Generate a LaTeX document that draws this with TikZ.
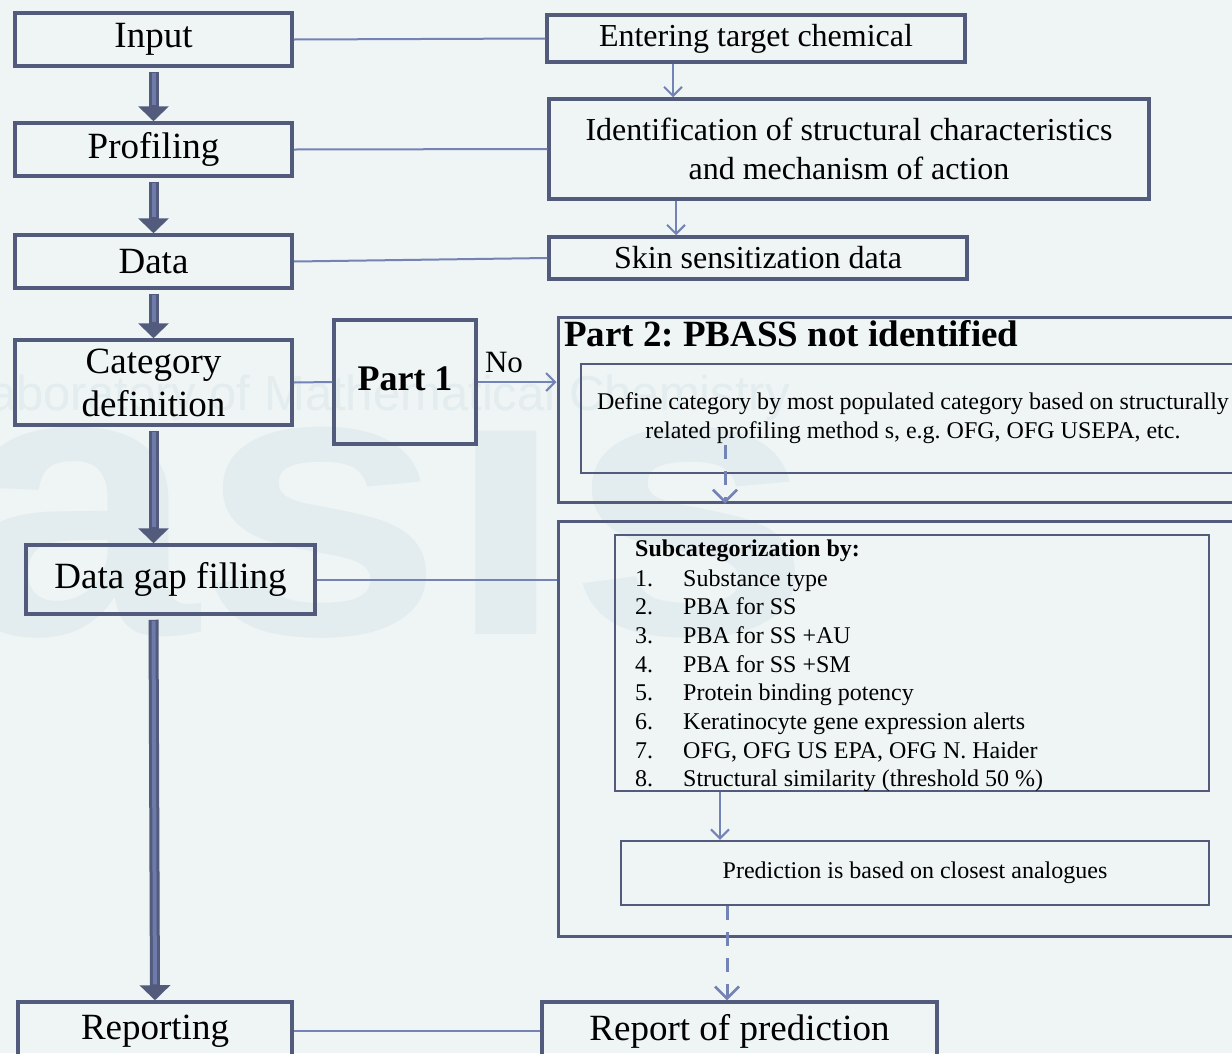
\documentclass[tikz,border=0pt]{standalone}
\usepackage{fontspec}
\setmainfont{Liberation Serif}
\newfontfamily\markfont{Liberation Sans}
\newfontfamily\markbigfont[FakeStretch=1.15]{Liberation Sans}
\usepackage{tikz}
\usetikzlibrary{arrows.meta}
\usetikzlibrary{positioning}
\definecolor{bgmint}{HTML}{EEF5F4}
\definecolor{boxline}{HTML}{525B7C}
\definecolor{linkline}{HTML}{7483B5}
\definecolor{flowfill}{HTML}{6D7AAA}
\definecolor{markgray}{HTML}{E3ECEE}
\frenchspacing

\begin{document}
\begin{tikzpicture}[x=1pt, y=-1pt,
     stepbox/.style={rectangle, draw=boxline, line width=3.5pt, inner sep=0pt, minimum width=277pt, minimum height=53pt, font=\fontsize{37}{43}\selectfont, align=center},
     infobox/.style={rectangle, draw=boxline, line width=3.5pt, inner sep=0pt, font=\fontsize{32}{39}\selectfont, align=center},
     partbox/.style={rectangle, draw=boxline, line width=3pt, inner sep=0pt},
     innerbox/.style={rectangle, draw=boxline, line width=2.5pt, inner sep=0pt, font=\fontsize{24}{29}\selectfont, align=center},
     listtext/.style={inner sep=0pt, font=\fontsize{24}{29}\selectfont},
     link/.style={draw=linkline, line width=2pt},
     linkarrow/.style={link, -{Straight Barb[length=9pt, width=18pt, line width=2pt]}},
     dashlink/.style={link, line width=3pt, dash pattern=on 14pt off 12pt, -{Straight Barb[length=12pt, width=24pt, line width=2.5pt]}},
     flow/.style={draw=boxline, line width=10pt, -{Triangle[width=30pt, length=15pt]}, shorten <=4pt},
     flowin/.style={draw=flowfill, line width=4pt, shorten <=5pt, shorten >=16pt}
 ]
 \newcommand{\flowarrow}[2]{
     \draw[flow] (#1) -- (#2);
     \draw[flowin] (#1) -- (#2);
 }

 \useasboundingbox (0,0) rectangle (1232,1053);
 \fill[bgmint] (0,0) rectangle (1232,1053);

 % faint watermark behind everything
 \node[anchor=base west, inner sep=0pt, text=markgray, font=\markbigfont\bfseries\fontsize{385}{385}\selectfont] (markbig) at (-48,634) {as\symbol{"0131}s};
 \node[anchor=base east, inner sep=0pt, text=markgray, font=\markfont\fontsize{49}{49}\selectfont] (marktext) at (790,410) {Laboratory of Mathematical Chemistry};

 % left column: workflow steps
 \node[stepbox] (input) at (153.5,39.5) {Input};
 \node[stepbox] (profiling) at (153.5,149.5) {Profiling};
 \node[stepbox] (data) at (153.5,261.5) {Data};
 \node[stepbox, minimum height=85pt] (catdef) at (153.5,382.5) {Category\\definition};
 \node[stepbox, minimum width=289pt, minimum height=69pt] (gapfill) at (170.5,579.5) {Data gap filling};
 \node[stepbox, minimum width=274pt, minimum height=58pt] (reporting) at (155,1031) {Reporting};

 \flowarrow{input.south}{profiling.north}
 \flowarrow{profiling.south}{data.north}
 \flowarrow{data.south}{catdef.north}
 \flowarrow{catdef.south}{catdef.south |- gapfill.north}
 \flowarrow{gapfill.south -| catdef.south}{reporting.north}

 % right column: what is done in each step
 \node[infobox, minimum width=418pt, minimum height=47pt] (entering) at (756,38.5) {Entering target chemical};
 \node[infobox, minimum width=600pt, minimum height=100pt] (ident) at (849,149) {Identification of structural characteristics\\and mechanism of action};
 \node[infobox, minimum width=418pt, minimum height=42pt] (skin) at (758,258) {Skin sensitization data};

 \draw[link] (input.east) -- (entering.west);
 \draw[link] (profiling.east) -- (ident.west);
 \draw[link] (data.east) -- (skin.west);
 \draw[linkarrow] ([xshift=-83pt]entering.south) -- ([xshift=-176pt]ident.north);
 \draw[linkarrow] ([xshift=-173pt]ident.south) -- ([xshift=-82pt]skin.north);

 % category definition
 \node[partbox, line width=3.5pt, minimum width=142pt, minimum height=124pt, font=\bfseries\fontsize{36}{40}\selectfont] (part1) at (405,382) {\raisebox{6pt}{Part 1}};
 \node[partbox, minimum width=692pt, minimum height=185pt] (part2) at (904,409.5) {};
 \node[anchor=west, inner sep=0pt, font=\bfseries\fontsize{37}{40}\selectfont] (part2title) at (564,334) {Part 2: PBASS not identified};
 \node[innerbox, minimum width=664pt, minimum height=109pt] (define) at (913,418.5) {Define category by most populated category based on structurally\\related profiling method s, e.g. OFG, OFG USEPA, etc.};

 \draw[link] (catdef.east) -- (part1.west);
 \draw[linkarrow] (part1.east) -- (part1.east -| part2.west);
 \node[inner sep=0pt, font=\fontsize{31}{35}\selectfont] (nolabel) at (504,362) {No};
 \coordinate (dashstart) at (725,445);
 \draw[dashlink] (dashstart) -- (dashstart |- part2.south);

 % data gap filling
 \node[partbox, minimum width=692pt, minimum height=415pt] (fillpart) at (904,728.5) {};
 \node[innerbox, minimum width=594pt, minimum height=256pt] (subcat) at (912,663) {};
 \node[listtext, anchor=base west] (subtitle) at (635,556) {\textbf{Subcategorization by:}};
 \foreach \entry [count=\i] in {Substance type, PBA for SS, PBA for SS +AU, PBA for SS +SM, Protein binding potency, Keratinocyte gene expression alerts, {OFG, OFG US EPA, OFG N. Haider}, Structural similarity (threshold 50 \%)} {
     \pgfmathsetmacro{\itemy}{586+(\i-1)*28.7}
     \node[listtext, anchor=base west] (num\i) at (635,\itemy) {\i.};
     \node[listtext, anchor=base west] (item\i) at (683,\itemy) {\entry};
 }
 \node[innerbox, minimum width=588pt, minimum height=64pt] (predict) at (915,873) {Prediction is based on closest analogues};

 \draw[link] (gapfill.east) -- (gapfill.east -| fillpart.west);
 \draw[linkarrow] ([xshift=-192pt]subcat.south) -- ([xshift=-195pt]predict.north);

 % reporting
 \node[infobox, minimum width=395pt, minimum height=58pt, font=\fontsize{37}{43}\selectfont] (reportpred) at (739.5,1031) {Report of prediction};
 \draw[dashlink] ([xshift=-188pt]predict.south) -- ([xshift=-12.5pt]reportpred.north);
 \draw[link] (reporting.east) -- (reportpred.west);
\end{tikzpicture}
\end{document}
